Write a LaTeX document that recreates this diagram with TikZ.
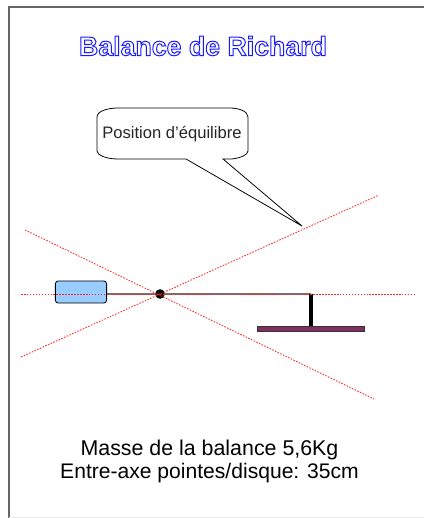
\documentclass[tikz,border=0pt]{standalone}
\usepackage{fontspec}
\setmainfont{Liberation Sans}
\usepackage{xcolor}
\usetikzlibrary{calc,positioning}
\definecolor{massblue}{RGB}{153,204,255}
\definecolor{diskplum}{RGB}{128,48,96}
\newcommand{\contourtexte}[1]{\special{pdf:code q 2 Tr 0.7 w 0.1 0.1 1 RG 1 1 1 rg}#1\special{pdf:code Q}}

\begin{document}
\begin{tikzpicture}[x=0.025cm,y=-0.025cm,
  axe/.style={draw=red!85!white, dash pattern=on 1.1pt off 1pt, line width=0.6pt},
  armbar/.style={draw=black!55, line width=0.8pt},
  bulle/.style={draw=black, line width=0.55pt},
  legende/.style={font=\fontsize{15}{16.3}\selectfont, align=center}
]
  \useasboundingbox (0,0) rectangle (424,518);
  \draw[black!60, line width=0.8pt] (9,518) -- (9,7) -- (424,7);
  \draw[black!8, line width=0.4pt] (9,517.5) -- (424,517.5);

  \node[font=\fontsize{19}{21}\selectfont\bfseries] (titre) at (203,46) {\contourtexte{Balance de Richard}};

  % masse, fleau, disque
  \node[circle, fill=black, inner sep=0pt, minimum size=0.24cm] (pivot) at (160,294) {};
  \node[draw=black, fill=massblue, rounded corners=2pt, line width=0.6pt, minimum width=1.28cm, minimum height=0.55cm, inner sep=0pt] (masse) at (81,292) {};
  \coordinate (coude) at (311,294);
  \node[draw=black!80, fill=diskplum, line width=0.6pt, minimum width=2.68cm, minimum height=0.12cm, inner sep=0pt] (disque) at (311,329) {};
  \draw[armbar] (masse.east |- pivot) -- (pivot);
  \draw[armbar] (pivot) -- (coude);
  \draw[black, line width=2.2pt] (coude) -- (disque.north);

  % axes
  \coordinate (hg) at (25,230);
  \coordinate (bd) at (374,399);
  \coordinate (bg) at (21,357);
  \coordinate (hd) at (379,195);
  \coordinate (g) at (21,294);
  \coordinate (d) at (414,294);
  \draw[axe] (hg) -- (bd);
  \draw[axe] (bg) -- (hd);
  \draw[axe] (g) -- (d);

  % bulle
  \coordinate (pointe) at (302,226);
  \draw[bulle, fill=white] (186,159) -- (pointe) -- (223,159) -- (232,159)
    .. controls (240,158) and (248,155) .. (248,151) -- (248,117)
    .. controls (248,111) and (238,108) .. (230,108) -- (118,108)
    .. controls (108,108) and (97,111) .. (97,117) -- (97,151)
    .. controls (97,155) and (106,159) .. (118,159) -- cycle;
  \node[font=\fontsize{11.8}{13}\selectfont, text=black!85] (position) at (172,134) {Position d'équilibre};

  \node[legende] (note) at (209.5,461) {{\fontsize{15.2}{16.3}\selectfont Masse de la balance 5,6Kg}\\Entre-axe pointes/disque: 35cm};
\end{tikzpicture}
\end{document}
